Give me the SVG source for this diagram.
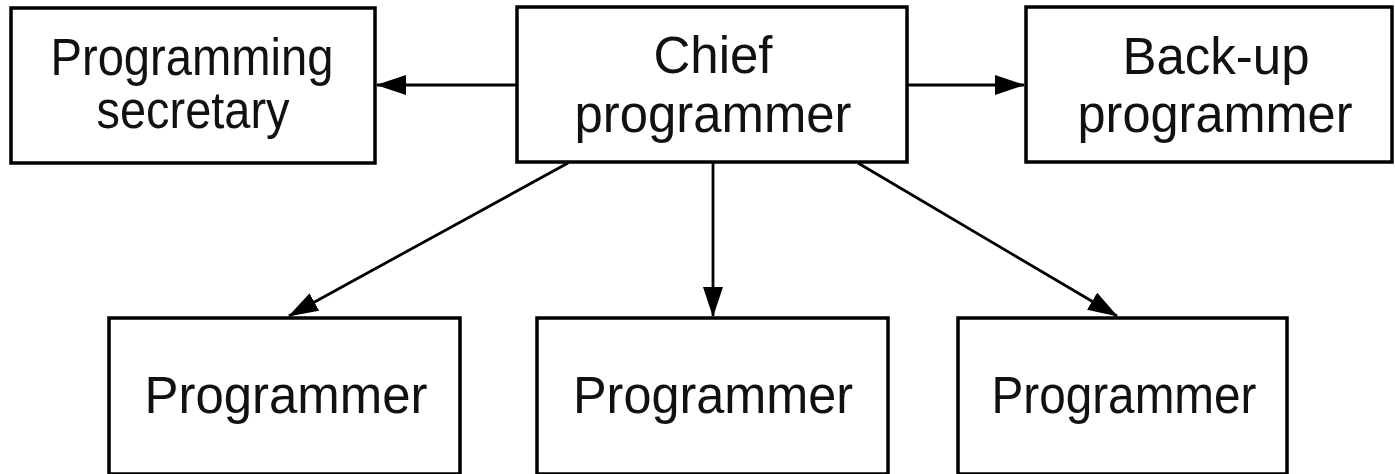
<svg xmlns="http://www.w3.org/2000/svg" width="1395" height="474" viewBox="0 0 1395 474">
<style>
.box{fill:#fff;stroke:#000;stroke-width:3.5}
.lbl{font-family:"Liberation Sans",Arial,sans-serif;font-size:51px;fill:#111;text-anchor:middle}
.conn{stroke:#000;stroke-width:2.8;fill:none;marker-end:url(#ah)}
</style>
<defs>
<marker id="ah" markerUnits="userSpaceOnUse" markerWidth="30" markerHeight="20" refX="29" refY="10" orient="auto">
<path d="M0,0 L30,10 L0,20 Z" fill="#000"/>
</marker>
</defs>
<rect width="1395" height="474" fill="#fff"/>
<g id="connectors">
<line class="conn" x1="517" y1="85" x2="377" y2="85"/>
<line class="conn" x1="907" y1="85" x2="1024" y2="85"/>
<line class="conn" x1="713" y1="163" x2="713" y2="316"/>
<line class="conn" x1="568" y1="163" x2="289" y2="316"/>
<line class="conn" x1="858" y1="163" x2="1117" y2="316"/>
</g>
<g id="secretary">
<rect class="box" x="11" y="8" width="364" height="155"/>
<text class="lbl" x="192" y="75" textLength="283" lengthAdjust="spacingAndGlyphs">Programming</text>
<text class="lbl" x="193" y="128" textLength="193" lengthAdjust="spacingAndGlyphs">secretary</text>
</g>
<g id="chief">
<rect class="box" x="517" y="7" width="390" height="155"/>
<text class="lbl" x="713" y="73">Chief</text>
<text class="lbl" x="713" y="132" textLength="277" lengthAdjust="spacingAndGlyphs">programmer</text>
</g>
<g id="backup">
<rect class="box" x="1026" y="7" width="366" height="155"/>
<text class="lbl" x="1216" y="74">Back-up</text>
<text class="lbl" x="1215" y="132" textLength="275" lengthAdjust="spacingAndGlyphs">programmer</text>
</g>
<g id="programmer1">
<rect class="box" x="109" y="318" width="351" height="156"/>
<text class="lbl" x="286" y="413" textLength="283" lengthAdjust="spacingAndGlyphs">Programmer</text>
</g>
<g id="programmer2">
<rect class="box" x="537" y="318" width="351" height="156"/>
<text class="lbl" x="713" y="413" textLength="280" lengthAdjust="spacingAndGlyphs">Programmer</text>
</g>
<g id="programmer3">
<rect class="box" x="958" y="318" width="329" height="156"/>
<text class="lbl" x="1124" y="413" textLength="265" lengthAdjust="spacingAndGlyphs">Programmer</text>
</g>
</svg>
